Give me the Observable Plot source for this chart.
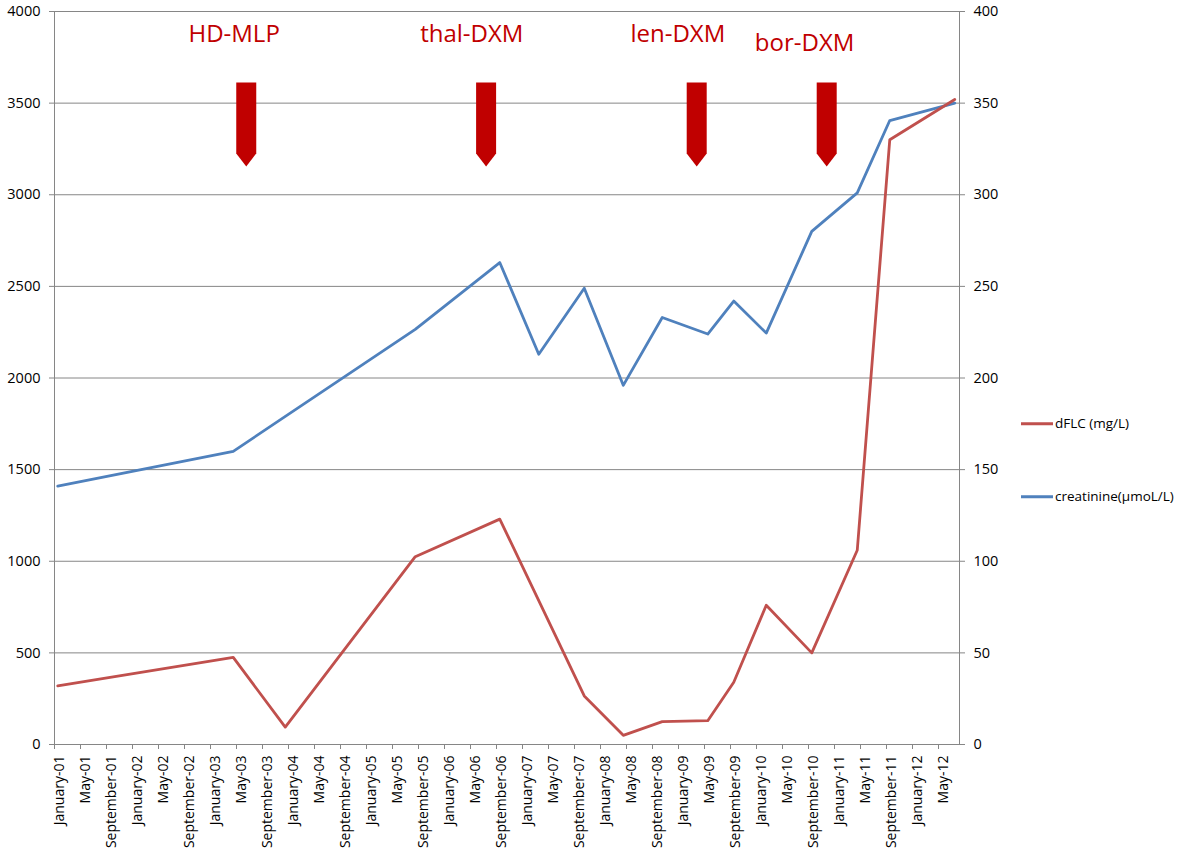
<!DOCTYPE html>
<html><head><meta charset="utf-8">
<script src="https://cdn.jsdelivr.net/npm/d3@7"></script>
<script src="https://cdn.jsdelivr.net/npm/@observablehq/plot@0.6"></script>
<style>
body{margin:0;background:#fff;font-family:"Open Sans",sans-serif}
#wrap{position:relative;width:1181px;height:856px;overflow:hidden}
.leg{position:absolute;left:1021px;font-size:13.5px;display:flex;align-items:center;color:#000;line-height:1;transform:translateY(-50%)}
.leg .sw{display:inline-block;width:32px;height:3px;margin-right:2px}
</style></head><body><div id="wrap"></div>
<script>
// sample dates (year-month)
const sampleDates = ["2001-01","2003-04","2003-12","2005-08","2006-09","2007-03","2007-10","2008-04","2008-10","2009-05","2009-09","2010-02","2010-09","2011-04","2011-09","2012-07"];
// dFLC (mg/L), left axis; null = not measured
const dFLC = [320, 475, 95, 1025, 1230, null, 265, 50, 125, 130, 340, 760, 500, 1060, 3300, 3520];
// creatinine (µmol/L), right axis; null = not measured
const creatinine = [141, 160, null, 226.5, 263, 213, 249, 196, 233, 224, 242, 224.5, 280, 301, 340.5, 350];

const xTickLabels = ["January-01","May-01","September-01","January-02","May-02","September-02","January-03","May-03","September-03","January-04","May-04","September-04","January-05","May-05","September-05","January-06","May-06","September-06","January-07","May-07","September-07","January-08","May-08","September-08","January-09","May-09","September-09","January-10","May-10","September-10","January-11","May-11","September-11","January-12","May-12"];
const leftTicks = [0,500,1000,1500,2000,2500,3000,3500,4000];

const treatments = ["HD-MLP","thal-DXM","len-DXM","bor-DXM"];
const treatmentArrowDates = ["2003-06-01","2006-06-28","2009-03-10","2010-11-10"];
const treatmentLabelDates = ["2003-04-05","2006-04-22","2008-12-13","2010-07-28"];
const treatmentLabelLevel = [3875, 3875, 3875, 3826];
const arrowTop = 3613;

const legendItems = ["dFLC (mg/L)", "creatinine(\u03bcmoL/L)"];

function monthIndex(s){
  const [y, m, d] = s.split("-").map(Number);
  return (y - 2001) * 12 + (m - 1) + (d ? (d - 1) / 30 : 0);
}

const redData = sampleDates.map((s,i)=>({m: monthIndex(s), v: dFLC[i]})).filter(d=>d.v!=null);
const blueData = sampleDates.map((s,i)=>({m: monthIndex(s), v: creatinine[i]})).filter(d=>d.v!=null);
const labelMonths = xTickLabels.map((_,i)=>i*4);
const boundaries = labelMonths.map(m=>m-0.5);
const arrows = treatmentArrowDates.map(s=>({m: monthIndex(s)}));
const labels = treatments.map((t,i)=>({t, m: monthIndex(treatmentLabelDates[i]), y: treatmentLabelLevel[i]}));

const arrowSymbol = {
  draw(ctx){
    ctx.moveTo(-10,0); ctx.lineTo(10,0); ctx.lineTo(10,71); ctx.lineTo(0,84); ctx.lineTo(-10,71); ctx.closePath();
  }
};

const RED = "#C0504D", BLUE = "#4F81BD", GRID = "#868686";

const chart = Plot.plot({
  width: 1181, height: 856,
  marginLeft: 54, marginRight: 222, marginTop: 11, marginBottom: 112,
  style: {fontFamily: "'Open Sans', sans-serif", fontSize: "14px", color: "#000", background: "#fff"},
  x: {type: "linear", domain: [-0.5, 138.73]},
  y: {domain: [0, 4000]},
  marks: [
    Plot.gridY(leftTicks, {stroke: GRID, strokeOpacity: 1}),
    Plot.frame({stroke: GRID}),
    Plot.axisY(leftTicks, {anchor: "left", tickSize: 5, tickPadding: 9, stroke: GRID, tickFormat: d => String(d), label: null, fontSize: 14.5}),
    Plot.axisY(leftTicks, {anchor: "right", tickSize: 5, tickPadding: 9, stroke: GRID, tickFormat: d => String(d / 10), label: null, fontSize: 14.5}),
    Plot.axisX(boundaries, {anchor: "bottom", tickSize: 5, stroke: GRID, tickFormat: () => "", label: null}),
    Plot.axisX(labelMonths, {anchor: "bottom", tickSize: 0, tickPadding: 11, tickRotate: -90, tickFormat: m => xTickLabels[m / 4], label: null, fontSize: 14, dx: 2}),
    Plot.line(blueData, {x: "m", y: d => d.v * 10, stroke: BLUE, strokeWidth: 2.8}),
    Plot.line(redData, {x: "m", y: "v", stroke: RED, strokeWidth: 2.8}),
    Plot.dot(arrows, {x: "m", y: () => arrowTop, symbol: arrowSymbol, fill: "#C00000", stroke: "none"}),
    Plot.text(labels, {x: "m", y: "y", text: "t", fill: "#C00000", fontSize: 24, lineAnchor: "middle"})
  ]
});
const wrap = document.getElementById("wrap");
wrap.appendChild(chart);
const legTops = [424, 497];
const legColors = [RED, BLUE];
legendItems.forEach((t,i)=>{
  const div = document.createElement("div");
  div.className = "leg";
  div.style.top = legTops[i] + "px";
  div.innerHTML = `<span class="sw" style="background:${legColors[i]}"></span><span></span>`;
  div.lastChild.textContent = t;
  wrap.appendChild(div);
});
</script></body></html>
